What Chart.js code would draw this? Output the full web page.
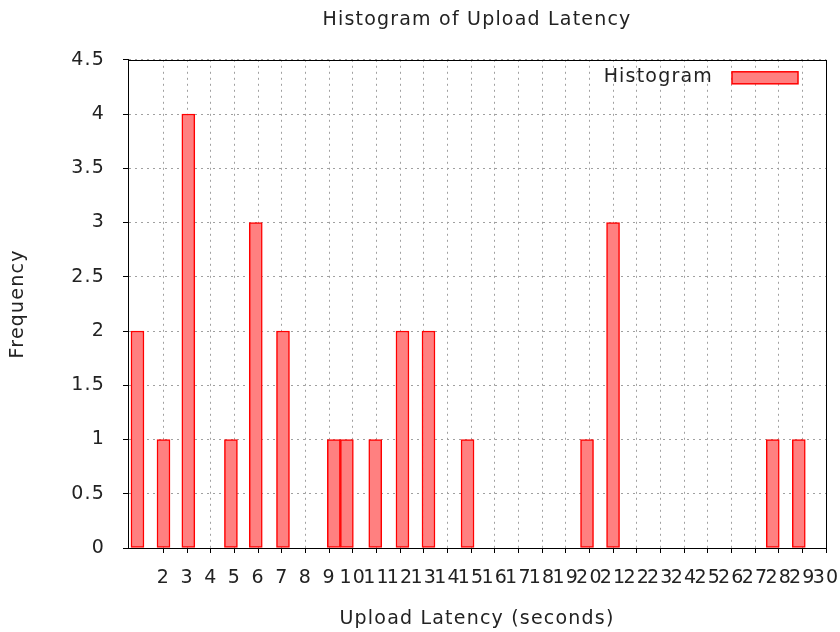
<!DOCTYPE html>
<html>
<head>
<meta charset="utf-8">
<script src="https://cdn.jsdelivr.net/npm/chart.js@4/dist/chart.umd.min.js"></script>
<style>
    body{ margin:0; background:#fff; }
    #hist{ display:block; }
</style>
</head>
<body>
<canvas id="hist" width="840" height="632"></canvas>
<script>
/****
data
*****/
const latencySeconds = [0.9, 2.0, 3.05, 4.85, 5.9, 7.05, 9.2, 9.75, 10.95, 12.1, 13.2, 14.85, 19.9, 21.0, 27.75, 28.85];
const frequency      = [2,   1,   4,    1,    3,   2,    1,   1,    1,     2,    2,    1,     1,    3,    1,     1];
const xTickValues    = [2, 3, 4, 5, 6, 7, 8, 9, 10, 11, 12, 13, 14, 15, 16, 17, 18, 19, 20, 21, 22, 23, 24, 25, 26, 27, 28, 29, 30];
const yTickValues    = [0, 0.5, 1, 1.5, 2, 2.5, 3, 3.5, 4, 4.5];
const seriesName     = 'Histogram';

const LETTER_SPACING = '1.2px';

/*****
plugins
******/
// gnuplot png text is spaced out a bit
const spacing = {
    id: 'spacing',
    beforeUpdate: (chart)=>{ chart.ctx.letterSpacing = LETTER_SPACING; },
    beforeDraw:   (chart)=>{ chart.ctx.letterSpacing = LETTER_SPACING; }
};
// full border round the plot
const frameBox = {
    id: 'frameBox',
    afterDraw: (chart)=>{
        let a   = chart.chartArea;
        let ctx = chart.ctx;
        ctx.save();
        ctx.strokeStyle = '#000';
        ctx.lineWidth   = 1;
        ctx.strokeRect(Math.round(a.left) + 0.5, Math.round(a.top) + 0.5, Math.round(a.right - a.left), Math.round(a.bottom - a.top));
        ctx.restore();
    }
};
// gnuplot style key: text then sample box, top right inside the plot
const innerKey = {
    id: 'innerKey',
    afterDatasetsDraw: (chart)=>{
        let a   = chart.chartArea;
        let ds  = chart.data.datasets[0];
        let ctx = chart.ctx;
        let boxRight = a.right - 28;
        let boxLeft  = boxRight - 66;
        let midY     = a.top + 18;
        ctx.save();
        ctx.fillStyle   = ds.backgroundColor;
        ctx.strokeStyle = ds.borderColor;
        ctx.lineWidth   = 1.5;
        ctx.fillRect(boxLeft, midY - 6, 66, 12);
        ctx.strokeRect(boxLeft, midY - 6, 66, 12);
        ctx.fillStyle    = Chart.defaults.color;
        ctx.font         = `${Chart.defaults.font.size}px ${Chart.defaults.font.family}`;
        ctx.textAlign    = 'right';
        ctx.textBaseline = 'middle';
        ctx.fillText(ds.label, boxLeft - 19, midY - 1);
        ctx.restore();
    }
};

Chart.defaults.font.family = "'DejaVu Sans', sans-serif";
Chart.defaults.font.size   = 19;
Chart.defaults.color       = '#222';

let points = latencySeconds.map((x, i)=>({ x: x, y: frequency[i] }));

let chart_hist = new Chart(document.querySelector('#hist').getContext('2d'), {
    type: 'bar',
    data: {
        datasets: [{
            label: seriesName,
            data: points,
            backgroundColor: '#ff8080',
            borderColor: '#ff0000',
            borderWidth: 1.5,
            borderSkipped: false,
            barThickness: 13
        }]
    },
    options: {
        responsive: false,
        animation: false,
        layout: { padding: { top: 0, right: 14, bottom: 0, left: 0 } },
        plugins: {
            title: {
                display: true,
                text: 'Histogram of Upload Latency',
                fullSize: false,
                font: { size: 19, weight: 'normal' },
                padding: { top: 9, bottom: 28 }
            },
            legend: { display: false },
            tooltip: { enabled: false }
        },
        scales: {
            x: {
                type: 'linear',
                min: 0.5,
                max: 30,
                offset: false,
                afterBuildTicks: (scale)=>{ scale.ticks = xTickValues.map(v=>({ value: v })); },
                afterFit: (scale)=>{ scale.height = 84; scale.paddingLeft = 0; scale.paddingRight = 0; },
                ticks: { autoSkip: false, maxRotation: 0, padding: 14, callback: (v)=>String(v) },
                grid: { offset: false, color: '#a0a0a0', tickColor: '#000', tickLength: 5, tickBorderDash: [] },
                border: { color: '#000', width: 1, dash: [2, 4] },
                title: { display: true, text: 'Upload Latency (seconds)', padding: { top: 0, bottom: 2 } }
            },
            y: {
                min: 0,
                max: 4.5,
                afterBuildTicks: (scale)=>{ scale.ticks = yTickValues.map(v=>({ value: v })); },
                afterFit: (scale)=>{ scale.width = 128; scale.paddingTop = 0; scale.paddingBottom = 0; },
                ticks: { padding: 18, callback: (v)=>String(v) },
                grid: { color: '#a0a0a0', tickColor: '#000', tickLength: 5, tickBorderDash: [] },
                border: { color: '#000', width: 1, dash: [2, 4] },
                title: { display: true, text: 'Frequency', padding: { top: 7, bottom: 0 } }
            }
        }
    },
    plugins: [spacing, frameBox, innerKey]
});
</script>
</body>
</html>
